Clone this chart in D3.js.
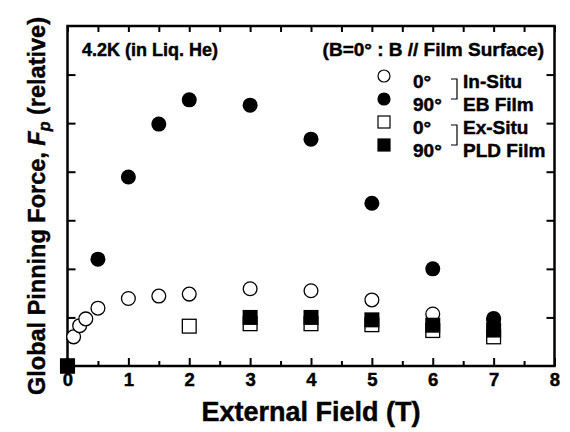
<!DOCTYPE html>
<html>
<head>
<meta charset="utf-8">
<script src="https://cdn.jsdelivr.net/npm/d3@7"></script>
<style>
  body { margin: 0; background: #fff; }
  svg { display: block; font-family: "Liberation Sans", Arial, sans-serif; font-weight: bold; }
  svg text { stroke: #000; stroke-width: 0.45px; fill: #000; }
</style>
</head>
<body>
<script>
// In-Situ EB film, 0 deg (open circles)
const fieldEB0 = [0, 0.1, 0.2, 0.3, 0.5, 1, 1.5, 2, 3, 4, 5, 6, 7];
const fpEB0 = [0, 0.60, 0.83, 0.97, 1.19, 1.39, 1.44, 1.48, 1.59, 1.55, 1.36, 1.07, 0.95];
// In-Situ EB film, 90 deg (filled circles)
const fieldEB90 = [0, 0.5, 1, 1.5, 2, 3, 4, 5, 6, 7];
const fpEB90 = [0, 2.20, 3.89, 4.98, 5.48, 5.37, 4.67, 3.35, 2.00, 0.98];
// Ex-Situ PLD film, 0 deg (open squares)
const fieldPLD0 = [0, 2, 3, 4, 5, 6, 7];
const fpPLD0 = [0, 0.82, 0.87, 0.87, 0.85, 0.73, 0.60];
// Ex-Situ PLD film, 90 deg (filled squares)
const fieldPLD90 = [0, 3, 4, 5, 6, 7];
const fpPLD90 = [0, 1.00, 1.00, 0.95, 0.84, 0.74];

const xTicks = [0, 1, 2, 3, 4, 5, 6, 7, 8];
const xMinorTicks = [0.5, 1.5, 2.5, 3.5, 4.5, 5.5, 6.5, 7.5];
const yTicks = [1, 2, 3, 4, 5, 6];

const width = 570;
const height = 432;
const marginLeft = 67.5;
const marginRight = 15.5;
const marginTop = 26;
const marginBottom = 66;

const x = d3.scaleLinear()
    .domain([0, 8])
    .range([marginLeft, width - marginRight]);

const y = d3.scaleLinear()
    .domain([0, 7])
    .range([height - marginBottom, marginTop]);

const svg = d3.select("body").append("svg")
    .attr("width", width)
    .attr("height", height)
    .attr("viewBox", [0, 0, width, height]);

// Ticks on all four sides, pointing inward
svg.append("g")
    .attr("transform", `translate(0,${height - marginBottom})`)
    .call(d3.axisBottom(x).tickValues(xTicks).tickSize(-8).tickPadding(7))
    .call(g => g.select(".domain").remove())
    .call(g => g.selectAll("line").attr("stroke-width", 2))
    .call(g => g.selectAll("text").style("font-size", "18.5px").style("font-weight", "bold").attr("fill", "#000"));

svg.append("g")
    .attr("transform", `translate(0,${height - marginBottom})`)
    .call(d3.axisBottom(x).tickValues(xMinorTicks).tickSize(-5).tickFormat(""))
    .call(g => g.select(".domain").remove())
    .call(g => g.selectAll("line").attr("stroke-width", 2));

svg.append("g")
    .attr("transform", `translate(0,${marginTop})`)
    .call(d3.axisTop(x).tickValues(xTicks.concat(xMinorTicks)).tickSize(-6).tickFormat(""))
    .call(g => g.select(".domain").remove())
    .call(g => g.selectAll("line").attr("stroke-width", 2));

svg.append("g")
    .attr("transform", `translate(${marginLeft},0)`)
    .call(d3.axisLeft(y).tickValues(yTicks).tickSize(-8).tickFormat(""))
    .call(g => g.select(".domain").remove())
    .call(g => g.selectAll("line").attr("stroke-width", 2));

svg.append("g")
    .attr("transform", `translate(${width - marginRight},0)`)
    .call(d3.axisRight(y).tickValues(yTicks).tickSize(-8).tickFormat(""))
    .call(g => g.select(".domain").remove())
    .call(g => g.selectAll("line").attr("stroke-width", 2));

// Frame
svg.append("rect")
    .attr("x", x(0))
    .attr("y", y(7))
    .attr("width", x(8) - x(0))
    .attr("height", y(0) - y(7))
    .attr("fill", "none")
    .attr("stroke", "#000")
    .attr("stroke-width", 2.5);

const pairs = (xs, ys) => xs.map((d, i) => [d, ys[i]]);
const r = 7.5;

// Open circles
svg.append("g")
    .selectAll("circle")
    .data(pairs(fieldEB0, fpEB0))
    .join("circle")
    .attr("cx", d => x(d[0]))
    .attr("cy", d => y(d[1]))
    .attr("r", r - 0.6)
    .attr("fill", "#fff")
    .attr("stroke", "#000")
    .attr("stroke-width", 1.3);

// Filled circles
svg.append("g")
    .selectAll("circle")
    .data(pairs(fieldEB90, fpEB90))
    .join("circle")
    .attr("cx", d => x(d[0]))
    .attr("cy", d => y(d[1]))
    .attr("r", r)
    .attr("fill", "#000");

// Open squares
svg.append("g")
    .selectAll("rect")
    .data(pairs(fieldPLD0, fpPLD0))
    .join("rect")
    .attr("x", d => x(d[0]) - r + 0.6)
    .attr("y", d => y(d[1]) - r + 0.6)
    .attr("width", 2 * r - 1.2)
    .attr("height", 2 * r - 1.2)
    .attr("fill", "#fff")
    .attr("stroke", "#000")
    .attr("stroke-width", 1.3);

// Filled squares
svg.append("g")
    .selectAll("rect")
    .data(pairs(fieldPLD90, fpPLD90))
    .join("rect")
    .attr("x", d => x(d[0]) - r)
    .attr("y", d => y(d[1]) - r)
    .attr("width", 2 * r)
    .attr("height", 2 * r)
    .attr("fill", "#000");

// Annotations
svg.append("text")
    .attr("x", 82)
    .attr("y", 56)
    .style("font-size", "18px")
    .text("4.2K (in Liq. He)");

svg.append("text")
    .attr("x", 544)
    .attr("y", 56)
    .attr("text-anchor", "end")
    .style("font-size", "19px")
    .text("(B=0° : B // Film Surface)");

// Legend
const legendRows = [
    { label: "0°", shape: "circle", fill: "#fff" },
    { label: "90°", shape: "circle", fill: "#000" },
    { label: "0°", shape: "square", fill: "#fff" },
    { label: "90°", shape: "square", fill: "#000" }
];
const legendY = [88, 111, 134, 157];
const legend = svg.append("g");
legendRows.forEach((row, i) => {
    const cy = legendY[i] - 12;
    if (row.shape === "circle") {
        legend.append("circle")
            .attr("cx", 384).attr("cy", cy).attr("r", 6)
            .attr("fill", row.fill).attr("stroke", "#000").attr("stroke-width", 1.2);
    } else {
        legend.append("rect")
            .attr("x", 378).attr("y", cy - 6).attr("width", 12).attr("height", 12)
            .attr("fill", row.fill).attr("stroke", "#000").attr("stroke-width", 1.2);
    }
    legend.append("text")
        .attr("x", 413)
        .attr("y", legendY[i])
        .style("font-size", "19px")
        .text(row.label);
});

const groups = [["In-Situ", "EB Film"], ["Ex-Situ", "PLD Film"]];
groups.forEach((g, i) => {
    const y0 = legendY[2 * i] - 9;
    const y1 = legendY[2 * i + 1] - 12;
    legend.append("path")
        .attr("d", `M451,${y0}H457V${y1}H451`)
        .attr("fill", "none")
        .attr("stroke", "#000")
        .attr("stroke-width", 1.2);
    legend.append("text").attr("x", 463).attr("y", legendY[2 * i]).style("font-size", "19px").text(g[0]);
    legend.append("text").attr("x", 463).attr("y", legendY[2 * i + 1]).style("font-size", "19px").text(g[1]);
});

// Axis titles
svg.append("text")
    .attr("x", (x(0) + x(8)) / 2)
    .attr("y", 421)
    .attr("text-anchor", "middle")
    .style("font-size", "27px")
    .text("External Field (T)");

const yTitle = svg.append("text")
    .attr("transform", `translate(45,206) rotate(-90)`)
    .attr("text-anchor", "middle")
    .style("font-size", "23.5px");
yTitle.append("tspan").text("Global Pinning Force, ");
yTitle.append("tspan").style("font-style", "italic").text("F");
yTitle.append("tspan").style("font-style", "italic").style("font-size", "16px").attr("dy", 5).text("p");
yTitle.append("tspan").attr("dy", -5).text(" (relative)");
</script>
</body>
</html>
